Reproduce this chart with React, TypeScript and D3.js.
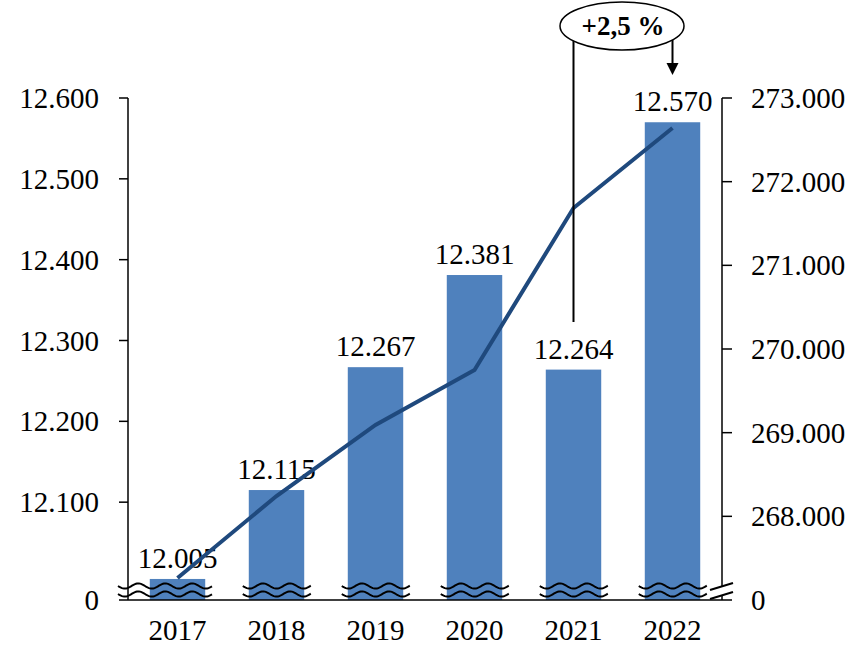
import React from "react";
import * as d3 from "d3";

const years = ["2017", "2018", "2019", "2020", "2021", "2022"];
const barValues = [12005, 12115, 12267, 12381, 12264, 12570];
const lineValues = [267263, 268243, 269092, 269749, 271685, 272641];
const leftTicks = [12100, 12200, 12300, 12400, 12500, 12600];
const rightTicks = [268000, 269000, 270000, 271000, 272000, 273000];
const annotationText = "+2,5 %";

const W = 866;
const H = 662;
const FONT = "'Liberation Serif', 'Times New Roman', serif";
const BAR = "#4F81BD";
const LINE = "#1F497D";

const locale = d3.formatLocale({ decimal: ",", thousands: ".", grouping: [3], currency: ["", ""] });
const fmt = locale.format(",d");

const left = 128;
const right = 722;
const baseY = 600;
const topY = 98;

export default function App() {
  const x = d3.scaleBand<string>().domain(years).range([left, right]).padding(0);
  const bw = x.bandwidth() * 0.56;
  const yL = d3.scaleLinear().domain([12000, 12600]).range([583, topY]);
  const yR = d3.scaleLinear().domain([267000, 273000]).range([baseY, topY]);
  const cx = (d: string) => (x(d) as number) + x.bandwidth() / 2;

  const line = d3
    .line<number>()
    .x((_, i) => cx(years[i]))
    .y((v) => yR(v));

  const wave = (x0: number, x1: number, y: number) => {
    const pts: [number, number][] = [];
    for (let xx = x0; xx <= x1; xx += 1) {
      pts.push([xx, y + 2.6 * Math.sin(((xx - x0) / 27) * 2 * Math.PI)]);
    }
    return d3.line()(pts) as string;
  };

  const w1 = 586;
  const w2 = 594;

  const ann1x = cx("2021");
  const ann2x = cx("2022");
  const ellCx = (ann1x + ann2x) / 2 - 1;

  return (
    <svg
      width={W}
      height={H}
      style={{ position: "absolute", left: 0, top: 0, background: "#fff" }}
      fontFamily={FONT}
    >
      {/* bars */}
      {years.map((yr, i) => (
        <rect
          key={yr}
          x={cx(yr) - bw / 2}
          y={yL(barValues[i])}
          width={bw}
          height={baseY - yL(barValues[i])}
          fill={BAR}
        />
      ))}
      {/* bar labels */}
      {years.map((yr, i) => (
        <text
          key={"l" + yr}
          x={cx(yr)}
          y={yL(barValues[i]) - 11}
          textAnchor="middle"
          fontSize={29}
          fill="#000"
        >
          {fmt(barValues[i])}
        </text>
      ))}
      {/* axes */}
      <line x1={left} x2={left} y1={topY} y2={baseY} stroke="#000" strokeWidth={1.5} />
      <line x1={right} x2={right} y1={topY} y2={baseY} stroke="#000" strokeWidth={1.5} />
      <line x1={left - 9} x2={right + 10} y1={baseY} y2={baseY} stroke="#000" strokeWidth={1.5} />
      {leftTicks.map((t) => (
        <g key={"lt" + t}>
          <line x1={left - 9} x2={left} y1={yL(t)} y2={yL(t)} stroke="#000" strokeWidth={1.5} />
          <text x={left - 29} y={yL(t)} dy="0.35em" textAnchor="end" fontSize={29}>
            {fmt(t)}
          </text>
        </g>
      ))}
      <text x={left - 29} y={baseY} dy="0.35em" textAnchor="end" fontSize={29}>
        0
      </text>
      {rightTicks.map((t) => (
        <g key={"rt" + t}>
          <line x1={right} x2={right + 10} y1={yR(t)} y2={yR(t)} stroke="#000" strokeWidth={1.5} />
          <text x={right + 29} y={yR(t)} dy="0.35em" textAnchor="start" fontSize={29}>
            {fmt(t)}
          </text>
        </g>
      ))}
      <text x={right + 29} y={baseY} dy="0.35em" textAnchor="start" fontSize={29}>
        0
      </text>
      {/* year labels */}
      {years.map((yr) => (
        <text key={"y" + yr} x={cx(yr)} y={640} textAnchor="middle" fontSize={29}>
          {yr}
        </text>
      ))}
      {/* break marks on bars */}
      {years.map((yr, i) => {
        const x0 = i === 0 ? left - 10 : cx(yr) - bw / 2 - 6;
        const x1 = cx(yr) + bw / 2 + 7;
        return (
          <g key={"w" + yr}>
            <path d={wave(x0, x1, w1)} fill="none" stroke="#000" strokeWidth={2} />
            <path d={wave(x0, x1, w2)} fill="none" stroke="#000" strokeWidth={2} />
          </g>
        );
      })}
      {/* break marks on right axis */}
      <polygon points={`${right - 12},${w1 + 4} ${right + 11},${w1 - 3} ${right + 11},${w2 - 2} ${right - 12},${w2 + 5}`} fill="#fff" />
      <line x1={right - 12} y1={w1 + 4} x2={right + 11} y2={w1 - 3} stroke="#000" strokeWidth={2} />
      <line x1={right - 12} y1={w2 + 5} x2={right + 11} y2={w2 - 2} stroke="#000" strokeWidth={2} />
      {/* line series */}
      <path d={line(lineValues) as string} fill="none" stroke={LINE} strokeWidth={4} />
      {/* annotation */}
      <line x1={ann1x} x2={ann1x} y1={40} y2={322} stroke="#000" strokeWidth={2} />
      <line x1={ann2x} x2={ann2x} y1={40} y2={64} stroke="#000" strokeWidth={2} />
      <polygon points={`${ann2x - 6},${63} ${ann2x + 6},${63} ${ann2x},${75}`} fill="#000" />
      <ellipse cx={ellCx} cy={26} rx={62} ry={24} fill="#fff" stroke="#000" strokeWidth={1.5} />
      <text x={ellCx + 1} y={35} textAnchor="middle" fontSize={27} fontWeight="bold">
        {annotationText}
      </text>
    </svg>
  );
}
